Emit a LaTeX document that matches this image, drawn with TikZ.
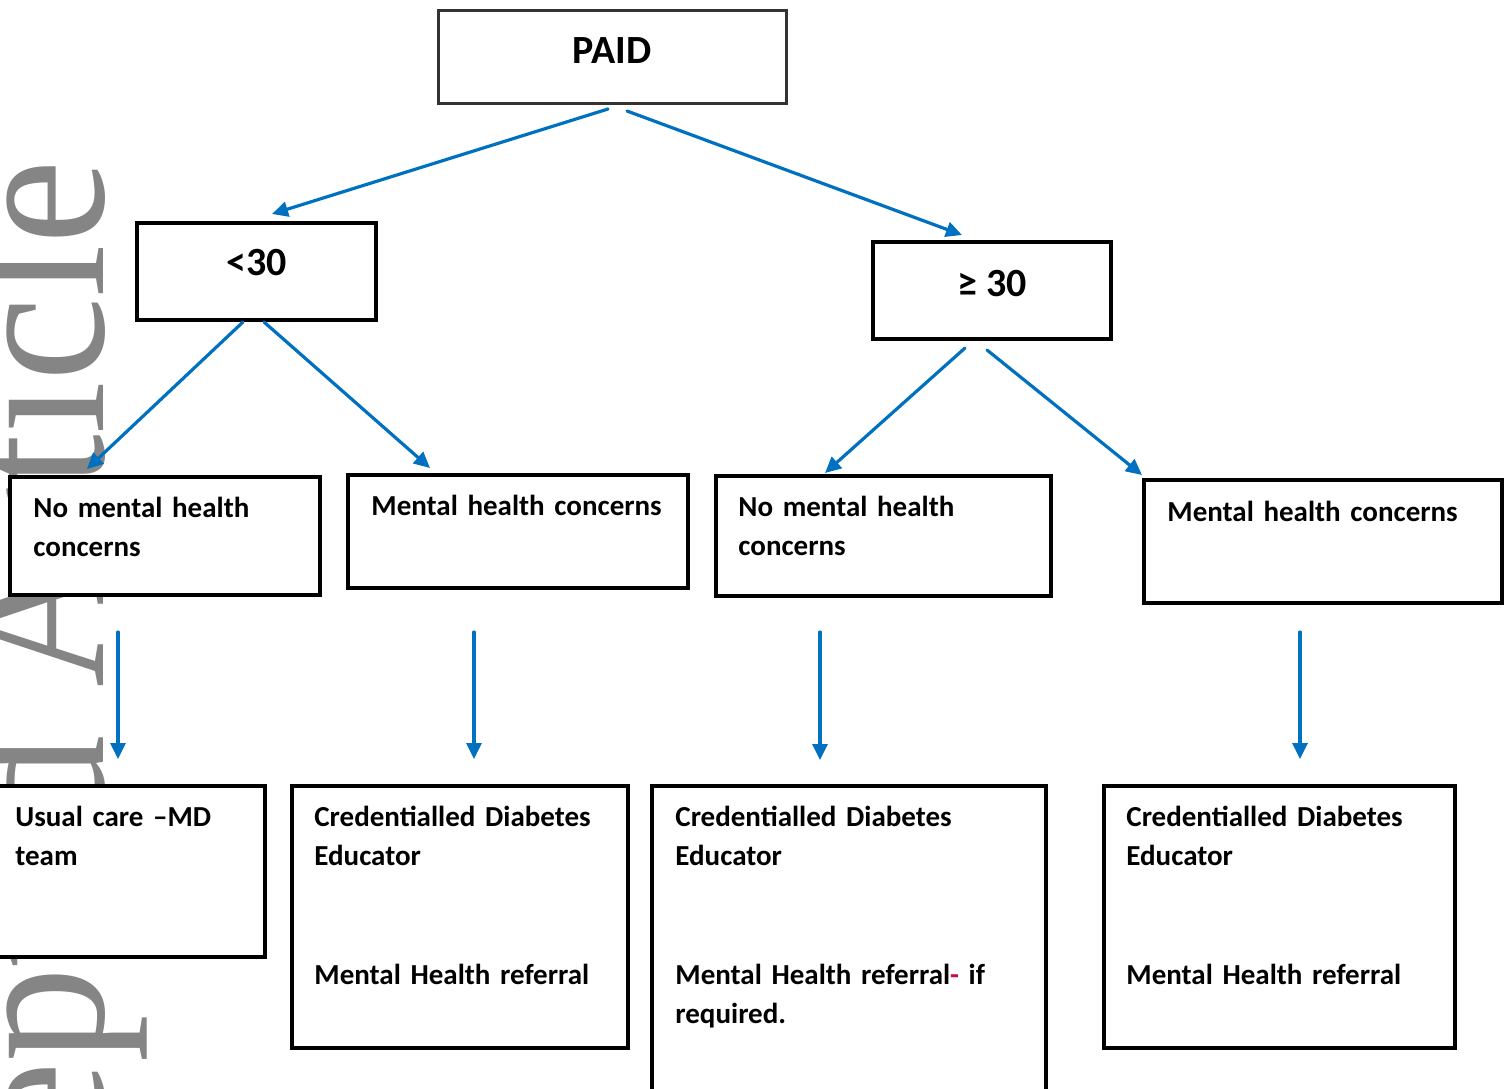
\documentclass[tikz,border=0pt]{standalone}
\usepackage{fontspec}
\setmainfont{Carlito}
\newfontfamily\wmfont{Liberation Serif}
\usepackage{tikz}
\usepackage{tkz-euclide}
\usetikzlibrary{arrows.meta,positioning}
\definecolor{flowblue}{HTML}{0070C0}
\definecolor{wmgray}{HTML}{858585}
\definecolor{dashred}{HTML}{C0103A}
\definecolor{paidgray}{HTML}{333333}
\tikzset{
  boxframe/.style={draw=black, line width=1.8pt, fill=white, anchor=north west, inner sep=0pt, outer sep=0pt},
  headtext/.style={anchor=base, inner sep=0pt, font=\bfseries\fontsize{20}{24}\selectfont},
  bodytext/.style={anchor=base west, align=left, text width=165pt, inner sep=0pt, font=\bfseries\fontsize{14.5}{19.5}\selectfont},
  flowarrow/.style={draw=flowblue, line width=1.6pt, -{Triangle[length=8pt,width=7.5pt]}},
  watermark/.style={text=wmgray, inner sep=0pt, rotate=90, yscale=1.08, anchor=base east, font=\wmfont\fontsize{95}{95}\selectfont}
}
\begin{document}
\begin{tikzpicture}[x=0.5pt,y=-0.5pt]
    \useasboundingbox (0,0) rectangle (1508,1088);
    \clip (0,0) rectangle (1508,1088);
    \node[watermark] (wm) at (103,160) {Accepted Article};
    \node[boxframe, draw=paidgray, line width=1.5pt, minimum width=174pt, minimum height=46.5pt] (paid) at (438,10) {};
    \node[headtext] (paidtxt) at ([yshift=-26.5pt]paid.north) {PAID};
    \node[boxframe, minimum width=119.5pt, minimum height=48.5pt] (low) at (137,223) {};
    \node[headtext] (lowtxt) at ([yshift=-26pt]low.north) {<30};
    \node[boxframe, minimum width=119pt, minimum height=48.5pt] (high) at (873,242) {};
    \node[headtext] (hightxt) at ([yshift=-27pt]high.north) {≥ 30};
    \node[boxframe, minimum width=155pt, minimum height=59pt] (nmhA) at (10,477) {};
    \node[bodytext] (nmhAtxt) at ([shift={(11.5pt,-20pt)}]nmhA.north west) {No mental health\\concerns};
    \node[boxframe, minimum width=170pt, minimum height=56.5pt] (mhA) at (348,475) {};
    \node[bodytext] (mhAtxt) at ([shift={(11.5pt,-20pt)}]mhA.north west) {Mental health concerns};
    \node[boxframe, minimum width=167.5pt, minimum height=60pt] (nmhB) at (716,476) {};
    \node[bodytext] (nmhBtxt) at ([shift={(11pt,-20pt)}]nmhB.north west) {No mental health\\concerns};
    \node[boxframe, minimum width=179pt, minimum height=61.5pt] (mhB) at (1144,480) {};
    \node[bodytext] (mhBtxt) at ([shift={(11.5pt,-20.5pt)}]mhB.north west) {Mental health concerns};
    \node[boxframe, minimum width=137.5pt, minimum height=85.5pt] (usual) at (-10,786) {};
    \node[bodytext] (usualtxt) at ([shift={(12.5pt,-20pt)}]usual.north west) {Usual care –MD\\team};
    \node[boxframe, minimum width=168pt, minimum height=131pt] (cdeA) at (292,786) {};
    \node[bodytext] (cdeAtxt) at ([shift={(11pt,-20pt)}]cdeA.north west) {Credentialled Diabetes\\Educator\\[40pt]Mental Health referral};
    \node[boxframe, minimum width=197pt, minimum height=160pt] (cdeB) at (652,786) {};
    \node[bodytext] (cdeBtxt) at ([shift={(11.5pt,-20pt)}]cdeB.north west) {Credentialled Diabetes\\Educator\\[40pt]Mental Health referral{\color{dashred}-} if\\required.};
    \node[boxframe, minimum width=175.5pt, minimum height=131pt] (cdeC) at (1104,786) {};
    \node[bodytext] (cdeCtxt) at ([shift={(11pt,-20pt)}]cdeC.north west) {Credentialled Diabetes\\Educator\\[40pt]Mental Health referral};
    \tkzDefPoints{608/109/T1,272/214/H1,627/111/T2,962/235/H2}
    \tkzDefPoints{243/322/T3,87/469/H3,264/322/T4,430/468/H4}
    \tkzDefPoints{965/348/T5,825/473/H5,987/350/T6,1142/475/H6}
    \tkzDefPoints{118/632/T7,118/759/H7,474/632/T8,474/759/H8}
    \tkzDefPoints{820/632/T9,820/760/H9,1300/632/T10,1300/759/H10}
    \tkzDrawSegments[flowarrow](T1,H1 T2,H2 T3,H3 T4,H4 T5,H5)
    \tkzDrawSegments[flowarrow](T6,H6 T7,H7 T8,H8 T9,H9 T10,H10)
\end{tikzpicture}
\end{document}
